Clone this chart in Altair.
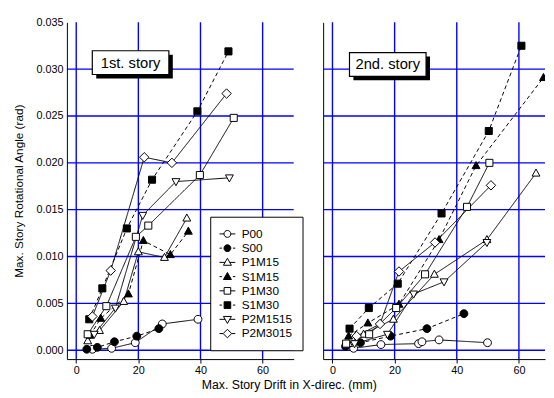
import altair as alt
import pandas as pd

series = ["P00", "S00", "P1M15", "S1M15", "P1M30", "S1M30", "P2M1515", "P2M3015"]

# 1st story (left panel)
s1_x = {
    "P00": [5.2, 11.4, 19.0, 27.7, 39.2],
    "S00": [3.4, 6.8, 12.3, 19.5, 26.6],
    "P1M15": [3.7, 7.5, 15.3, 20.0, 28.4, 35.6],
    "S1M15": [4.5, 7.9, 16.8, 21.6, 30.3, 36.1],
    "P1M30": [3.7, 9.7, 19.2, 23.2, 39.8, 50.7],
    "S1M30": [4.2, 8.4, 16.3, 24.4, 39.0, 49.0],
    "P2M1515": [5.8, 12.6, 21.4, 32.1, 49.3],
    "P2M3015": [5.2, 11.1, 21.9, 30.8, 48.4],
}
s1_y = {
    "P00": [0.0001, 0.0002, 0.0008, 0.0028, 0.0033],
    "S00": [0.0001, 0.0003, 0.0009, 0.0015, 0.0023],
    "P1M15": [0.0010, 0.0021, 0.0052, 0.0105, 0.0099, 0.0141],
    "S1M15": [0.0016, 0.0034, 0.0060, 0.0117, 0.0102, 0.0127],
    "P1M30": [0.0017, 0.0047, 0.0121, 0.0133, 0.0187, 0.0248],
    "S1M30": [0.0033, 0.0066, 0.0130, 0.0182, 0.0255, 0.0319],
    "P2M1515": [0.0017, 0.0045, 0.0144, 0.0180, 0.0184],
    "P2M3015": [0.0036, 0.0085, 0.0206, 0.0200, 0.0274],
}

# 2nd story (right panel)
s2_x = {
    "P00": [6.8, 15.6, 27.7, 28.8, 34.3, 49.9],
    "S00": [4.2, 9.0, 18.7, 30.4, 42.3],
    "P1M15": [5.2, 10.0, 19.6, 32.8, 49.7, 65.5],
    "S1M15": [5.2, 11.4, 21.4, 34.3, 46.2, 67.9],
    "P1M30": [4.4, 11.8, 20.5, 29.8, 43.3, 50.5],
    "S1M30": [5.5, 11.7, 21.0, 35.1, 50.3, 60.8],
    "P2M1515": [7.1, 17.7, 26.1, 35.9, 49.7],
    "P2M3015": [7.8, 15.3, 21.4, 33.0, 51.0],
}
s2_y = {
    "P00": [0.0002, 0.0006, 0.0007, 0.0009, 0.0011, 0.0008],
    "S00": [0.0004, 0.0008, 0.0015, 0.0023, 0.0039],
    "P1M15": [0.0007, 0.0017, 0.0033, 0.0081, 0.0118, 0.0189],
    "S1M15": [0.0015, 0.0029, 0.0049, 0.0118, 0.0197, 0.0291],
    "P1M30": [0.0007, 0.0017, 0.0045, 0.0081, 0.0153, 0.0200],
    "S1M30": [0.0023, 0.0045, 0.0071, 0.0146, 0.0234, 0.0325],
    "P2M1515": [0.0007, 0.0017, 0.0060, 0.0073, 0.0115],
    "P2M3015": [0.0015, 0.0028, 0.0084, 0.0115, 0.0176],
}

x_ticks = [0, 20, 40, 60]
y_ticks = [0.0, 0.005, 0.010, 0.015, 0.020, 0.025, 0.030, 0.035]
grid_y = [0.0, 0.005, 0.010, 0.015, 0.020, 0.025, 0.030]

labels = ["1st. story", "2nd. story"]
label_x = [17.5, 17.8]
label_y = [0.0307, 0.0305]

fills = ["white", "black", "white", "black", "white", "black", "white", "white"]
strokes = ["black"] * 8
dashes = [[1, 0], [4, 3], [1, 0], [4, 3], [1, 0], [4, 3], [1, 0], [1, 0]]

# marker shapes (unit paths)
CIRCLE = "M-1,0A1,1,0,1,0,1,0A1,1,0,1,0,-1,0Z"
TRI_UP = "M0,-1.05L1,0.75L-1,0.75Z"
SQUARE = "M-0.9,-0.9L0.9,-0.9L0.9,0.9L-0.9,0.9Z"
TRI_DN = "M0,1.05L1,-0.75L-1,-0.75Z"
DIAMOND = "M0,-1.2L1.2,0L0,1.2L-1.2,0Z"
shapes = [CIRCLE, CIRCLE, TRI_UP, TRI_UP, SQUARE, SQUARE, TRI_DN, DIAMOND]

# legend symbols: marker with line segment through it
def seg(gap, dashed):
    if dashed:
        return "M-1.15,0L-0.8,0M0.8,0L1.15,0"
    return "M-1.15,0L-%s,0M%s,0L1.15,0" % (gap, gap)

L_CIRCLE = "M-0.5,0A0.5,0.5,0,1,0,0.5,0A0.5,0.5,0,1,0,-0.5,0Z"
L_TRI_UP = "M0,-0.6L0.58,0.42L-0.58,0.42Z"
L_SQUARE = "M-0.48,-0.48L0.48,-0.48L0.48,0.48L-0.48,0.48Z"
L_TRI_DN = "M0,0.6L0.58,-0.42L-0.58,-0.42Z"
L_DIAMOND = "M0,-0.62L0.62,0L0,0.62L-0.62,0Z"
legend_shapes = [
    seg(0.5, False) + L_CIRCLE,
    seg(0.5, True) + L_CIRCLE,
    seg(0.34, False) + L_TRI_UP,
    seg(0.34, True) + L_TRI_UP,
    seg(0.48, False) + L_SQUARE,
    seg(0.48, True) + L_SQUARE,
    seg(0.34, False) + L_TRI_DN,
    seg(0.62, False) + L_DIAMOND,
]

BOX = "M-1,-0.31L1,-0.31L1,0.31L-1,0.31Z"


def frame(xs, ys):
    rows = []
    for s in series:
        for i, (xv, yv) in enumerate(zip(xs[s], ys[s])):
            rows.append({"series": s, "x": xv, "y": yv, "order": i})
    return pd.DataFrame(rows)


def panel(df, idx, xmax, width, first):
    xscale = alt.Scale(domain=[-3, xmax], nice=False, zero=False)
    yscale = alt.Scale(domain=[-0.00095, 0.035], nice=False, zero=False)
    if first:
        xaxis = alt.Axis(values=x_ticks, grid=False, tickSize=4, labelPadding=2,
                         title="Max. Story Drift in X-direc. (mm)", titleX=226, titleY=30,
                         titleBaseline="alphabetic", titleAlign="center", titleFontSize=12.5)
        yaxis = alt.Axis(values=y_ticks, format=".3f", grid=False, ticks=False, labelPadding=4,
                         title="Max. Story Rotational Angle (rad)", titlePadding=11)
    else:
        xaxis = alt.Axis(values=x_ticks, grid=False, tickSize=4, labelPadding=2, title=None)
        yaxis = alt.Axis(values=y_ticks, grid=False, ticks=False, labels=False, title=None)
    X = alt.X("x:Q", scale=xscale, axis=xaxis)
    Y = alt.Y("y:Q", scale=yscale, axis=yaxis)

    base = alt.Chart(df)
    vgrid = alt.Chart(pd.DataFrame({"x": x_ticks})).mark_rule(
        color="#0000ff", strokeWidth=1.4).encode(x=X)
    hgrid = alt.Chart(pd.DataFrame({"y": grid_y})).mark_rule(
        color="#0000ff", strokeWidth=1.4).encode(y=Y)
    lines = base.mark_line(color="black", strokeWidth=1, clip=True).encode(
        x=X, y=Y, detail="series:N", order="order:Q",
        strokeDash=alt.StrokeDash("series:N", scale=alt.Scale(domain=series, range=dashes), legend=None),
    )
    points = base.mark_point(filled=True, size=64, stroke="black", strokeWidth=1,
                             opacity=1, clip=True).encode(
        x=X, y=Y,
        shape=alt.Shape("series:N", scale=alt.Scale(domain=series, range=shapes), legend=None),
        fill=alt.Fill("series:N", scale=alt.Scale(domain=series, range=fills), legend=None),
    )
    ann = pd.DataFrame({"x": [label_x[idx]], "y": [label_y[idx]], "t": [labels[idx]]})
    shadow = alt.Chart(ann).mark_point(shape=BOX, size=6084, filled=True, color="black",
                                       opacity=1, xOffset=4, yOffset=4).encode(x=X, y=Y)
    box = alt.Chart(ann).mark_point(shape=BOX, size=6084, filled=True, fill="white",
                                    stroke="black", strokeWidth=1.2, opacity=1).encode(x=X, y=Y)
    txt = alt.Chart(ann).mark_text(font="Liberation Sans", fontSize=15, color="black",
                                   align="center", baseline="middle").encode(x=X, y=Y, text="t:N")
    layers = [vgrid, hgrid, lines, points, shadow, box, txt]
    if first:
        leg = alt.Legend(orient="none", legendX=146, legendY=198, title=None, padding=10,
                         strokeColor="black", fillColor="white", labelFontSize=12,
                         labelFont="Liberation Sans", labelColor="black", labelOffset=7,
                         symbolSize=196, symbolStrokeColor="black", symbolStrokeWidth=1,
                         rowPadding=0.5)
        legend_layer = base.transform_filter("datum.x < -100").mark_point(
            filled=True, size=196, strokeWidth=1, opacity=1).encode(
            x=X, y=Y,
            shape=alt.Shape("series:N", scale=alt.Scale(domain=series, range=legend_shapes), legend=leg),
            fill=alt.Fill("series:N", scale=alt.Scale(domain=series, range=fills), legend=leg),
            stroke=alt.Stroke("series:N", scale=alt.Scale(domain=series, range=strokes), legend=leg),
        )
        layers.append(legend_layer)
    return alt.layer(*layers).resolve_scale(
        shape="independent", fill="independent", stroke="independent"
    ).properties(width=width, height=343)


left = panel(frame(s1_x, s1_y), 0, 70, 231, True)
right = panel(frame(s2_x, s2_y), 1, 68.4, 226, False)

chart = alt.hconcat(left, right, spacing=30, bounds="flush").resolve_scale(
    shape="independent", fill="independent", strokeDash="independent", stroke="independent"
).properties(
    padding={"left": 4, "right": 0, "top": 5, "bottom": 2}
).configure_view(stroke=None).configure_axis(
    labelFont="Liberation Sans", titleFont="Liberation Sans", labelFontSize=11,
    titleFontSize=12, titleFontWeight="normal", labelColor="black", titleColor="black",
    domainColor="black", tickColor="black", domainWidth=1
)

chart.save("out.html", embed_options={"renderer": "svg", "actions": False})
